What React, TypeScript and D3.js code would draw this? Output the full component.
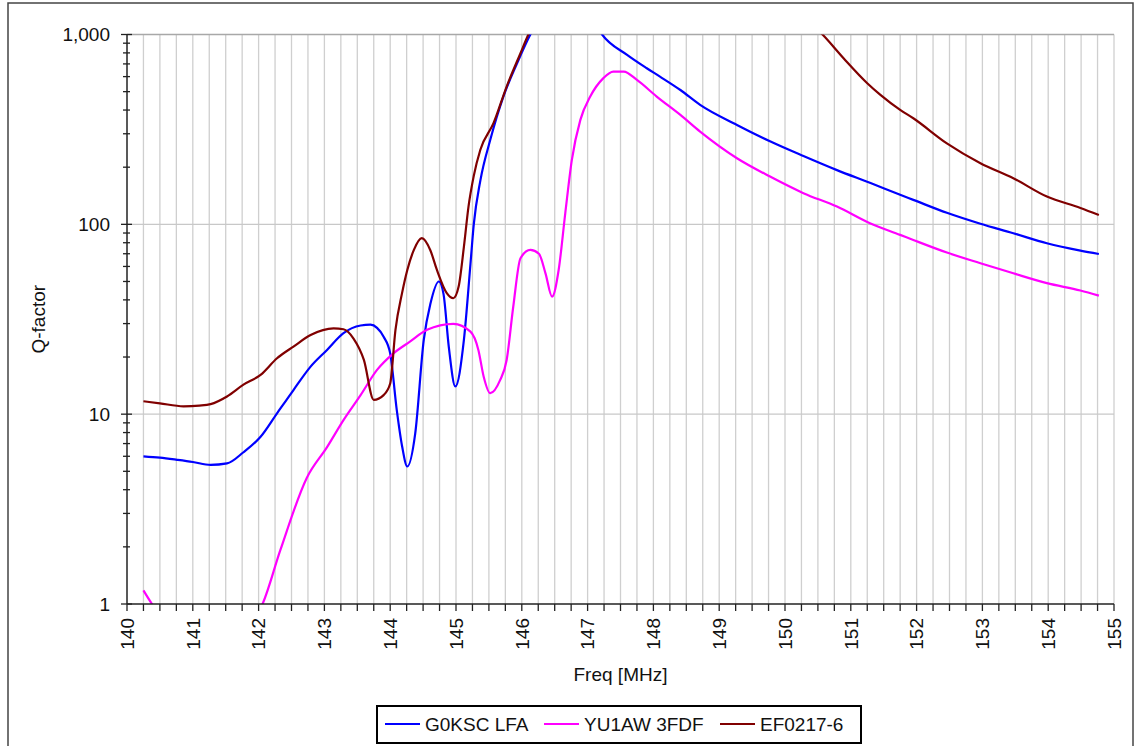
import React from 'react';
import * as d3 from 'd3';

// G0KSC LFA
const g0kscFreq = [140.25, 140.5, 140.76, 141.0, 141.27, 141.52, 141.77, 142.03, 142.28, 142.53, 142.79, 143.04, 143.29, 143.55, 143.7, 143.8, 143.9, 144.0, 144.1, 144.18, 144.26, 144.38, 144.51, 144.61, 144.74, 144.81, 144.89, 144.99, 145.12, 145.22, 145.27, 145.37, 145.52, 145.72, 145.93, 146.13, 146.5, 146.9, 147.22, 147.6, 147.9, 148.1, 148.41, 148.71, 149.27, 149.78, 150.28, 150.79, 151.3, 151.75, 151.95, 152.46, 152.97, 153.47, 153.98, 154.49, 154.77];
const g0kscQ = [6.0, 5.9, 5.75, 5.6, 5.4, 5.5, 6.3, 7.6, 10.1, 13.4, 17.8, 21.8, 26.7, 29.3, 29.6, 28.5, 25.6, 20.9, 10.5, 6.8, 5.3, 7.9, 24.6, 38, 50, 43, 22.7, 14, 24.6, 62, 100, 170, 278, 471, 707, 1000, 1500, 1600, 1000, 781, 664, 600, 510, 426, 334, 273, 229, 193, 165, 143, 134.5, 115, 100.7, 89.8, 79.5, 72.7, 69.8];

// YU1AW 3FDF
const yu1awFreq = [140.25, 140.38, 140.7, 141.2, 141.7, 142.06, 142.33, 142.73, 143.04, 143.29, 143.55, 143.8, 144.05, 144.3, 144.56, 144.96, 145.22, 145.34, 145.42, 145.52, 145.67, 145.77, 145.87, 145.98, 146.13, 146.26, 146.36, 146.46, 146.56, 146.66, 146.76, 146.89, 147.04, 147.24, 147.39, 147.55, 147.75, 148.05, 148.41, 148.71, 149.27, 149.78, 150.28, 150.79, 151.3, 151.75, 151.95, 152.46, 152.97, 153.47, 153.98, 154.49, 154.77];
const yu1awQ = [1.18, 1.0, 0.75, 0.62, 0.7, 1.0, 1.92, 4.6, 6.7, 9.3, 12.6, 17.1, 20.9, 24.1, 27.8, 29.9, 27.2, 21.8, 15.8, 12.9, 15.1, 19.3, 36.8, 66.3, 73.3, 70, 55.2, 41.6, 57.5, 114, 218, 355, 471, 589, 638, 638, 576, 471, 377, 308, 223, 178, 146, 124, 101, 88, 82.7, 71, 62.4, 55.2, 49, 44.8, 42.1];

// EF0217-6
const ef0217Freq = [140.25, 140.5, 140.86, 141.1, 141.27, 141.52, 141.77, 142.03, 142.28, 142.53, 142.79, 143.14, 143.29, 143.44, 143.6, 143.75, 143.9, 144.0, 144.08, 144.18, 144.26, 144.36, 144.48, 144.61, 144.71, 144.86, 144.96, 145.04, 145.12, 145.19, 145.27, 145.37, 145.57, 145.77, 145.98, 146.1, 146.5, 147.5, 148.5, 149.5, 150.57, 150.89, 151.25, 151.45, 151.75, 151.95, 152.46, 152.97, 153.47, 153.98, 154.49, 154.77];
const ef0217Q = [11.7, 11.4, 11.0, 11.1, 11.3, 12.4, 14.3, 16.1, 19.7, 22.7, 26.1, 28.3, 28, 25.1, 19.3, 11.9, 12.6, 14.5, 27.8, 43.4, 57.5, 73.3, 84.5, 73, 57.5, 43.4, 40.8, 47, 76, 124, 180, 247, 341, 532, 797, 1000, 1600, 2500, 2600, 1800, 1000, 750, 554, 481, 401, 362, 267, 210, 175, 140, 122, 112];

const seriesNames = ['G0KSC LFA', 'YU1AW 3FDF', 'EF0217-6'];
const seriesColors = ['#0000ff', '#ff00ff', '#800000'];
const yTickValues = [1, 10, 100, 1000];
const xTickLabels = [140, 141, 142, 143, 144, 145, 146, 147, 148, 149, 150, 151, 152, 153, 154, 155];

const W = 1135, H = 746;
const left = 127, right = 1114, top = 34.5, bottom = 604;
const font = 'Liberation Sans, Arial, sans-serif';

export default function App() {
  const x = d3.scaleLinear().domain([140, 155]).range([left, right]);
  const y = d3.scaleLog().domain([1, 1000]).range([bottom, top]);

  const series = [
    { name: seriesNames[0], color: seriesColors[0], pts: g0kscFreq.map((f, i) => [f, g0kscQ[i]]) },
    { name: seriesNames[1], color: seriesColors[1], pts: yu1awFreq.map((f, i) => [f, yu1awQ[i]]) },
    { name: seriesNames[2], color: seriesColors[2], pts: ef0217Freq.map((f, i) => [f, ef0217Q[i]]) },
  ];

  const line = d3.line<number[]>()
    .x(d => x(d[0]))
    .y(d => y(d[1]))
    .curve(d3.curveMonotoneX);

  const xGrid = d3.range(140, 155.001, 0.25);
  const yMinor: number[] = [];
  for (let dec = 1; dec < 1000; dec *= 10) {
    for (let k = 2; k <= 9; k++) yMinor.push(dec * k);
  }

  const legendX = [385, 544, 720];

  return (
    <svg width={W} height={H} style={{ position: 'absolute', left: 0, top: 0, background: '#fff' }}>
      <defs>
        <clipPath id="plot">
          <rect x={left} y={top} width={right - left} height={bottom - top} />
        </clipPath>
      </defs>
      <rect x={8} y={3} width={1125} height={770} fill="#fff" stroke="#444" strokeWidth={1.5} />

      {/* grid */}
      {xGrid.slice(1).map((v, i) => (
        <line key={'gx' + i} x1={x(v)} x2={x(v)} y1={top} y2={bottom} stroke="#cfcfcf" strokeWidth={1.3} />
      ))}
      {yTickValues.slice(1).map(v => (
        <line key={'gy' + v} x1={left} x2={right} y1={y(v)} y2={y(v)} stroke={v === 1000 ? '#a8a8a8' : '#c8c8c8'} strokeWidth={1.3} />
      ))}

      {/* series */}
      <g clipPath="url(#plot)">
        {series.map(s => (
          <path key={s.name} d={line(s.pts) || ''} fill="none" stroke={s.color} strokeWidth={2.2} strokeLinejoin="round" />
        ))}
      </g>

      {/* axes */}
      <line x1={left} x2={left} y1={top} y2={bottom} stroke="#222" strokeWidth={1.5} />
      <line x1={left} x2={right} y1={bottom} y2={bottom} stroke="#222" strokeWidth={1.5} />
      {xGrid.map((v, i) => (
        <line key={'tx' + i} x1={x(v)} x2={x(v)} y1={bottom} y2={bottom + 7} stroke="#222" strokeWidth={1.3} />
      ))}
      {yTickValues.map(v => (
        <line key={'ty' + v} x1={left - 6} x2={left + 5} y1={y(v)} y2={y(v)} stroke="#222" strokeWidth={1.3} />
      ))}
      {yMinor.map(v => (
        <line key={'tm' + v} x1={left - 4} x2={left + 3} y1={y(v)} y2={y(v)} stroke="#222" strokeWidth={1.3} />
      ))}

      {/* tick labels */}
      {yTickValues.map(v => (
        <text key={'ly' + v} x={110} y={y(v)} dy="0.36em" textAnchor="end" fontFamily={font} fontSize={19} fill="#111">
          {d3.format(',')(v)}
        </text>
      ))}
      {xTickLabels.map(v => (
        <text key={'lx' + v} transform={`translate(${x(v)},${bottom + 14}) rotate(-90)`} dy="0.36em" textAnchor="end"
          fontFamily={font} fontSize={19} fill="#111">
          {v}
        </text>
      ))}

      {/* axis titles */}
      <text x={(left + right) / 2} y={681} textAnchor="middle" fontFamily={font} fontSize={19} fill="#111">Freq [MHz]</text>
      <text transform={`translate(45,${(top + bottom) / 2}) rotate(-90)`} textAnchor="middle" fontFamily={font} fontSize={19} fill="#111">Q-factor</text>

      {/* legend */}
      <rect x={377} y={706} width={484} height={37} fill="#fff" stroke="#000" strokeWidth={2} />
      {series.map((s, i) => (
        <g key={'lg' + i}>
          <line x1={legendX[i]} x2={legendX[i] + 35} y1={724} y2={724} stroke={s.color} strokeWidth={2.2} />
          <text x={legendX[i] + 40} y={731} fontFamily={font} fontSize={19} fill="#111">{s.name}</text>
        </g>
      ))}
    </svg>
  );
}
